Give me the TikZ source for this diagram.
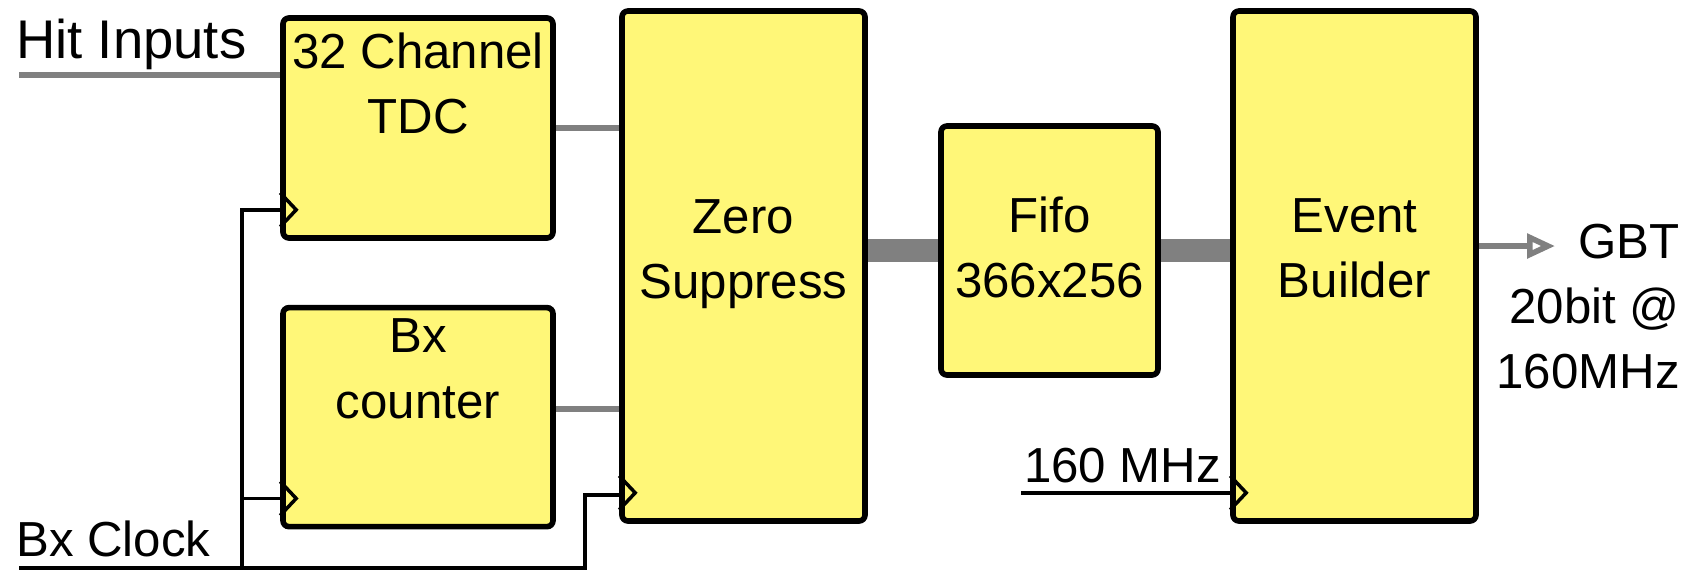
\documentclass[tikz,border=0pt]{standalone}
\usepackage{fontspec}
\setmainfont{Liberation Sans}
\usetikzlibrary{positioning, arrows.meta, calc}
\definecolor{blkyellow}{RGB}{255,247,120}
\definecolor{busgray}{RGB}{128,128,128}

\begin{document}
\begin{tikzpicture}[
    x=0.1mm, y=-0.1mm,
    blk/.style={draw, line width=1.6pt, rounded corners=0.6mm, fill=blkyellow, inner sep=0pt},
    txt/.style={align=center, inner sep=1pt, font=\fontsize{14}{18.5}\selectfont},
    sig/.style={busgray, line width=1.8pt},
    bus/.style={busgray, line width=6.8pt},
    clk/.style={black, line width=1pt},
    arrow/.style={-{Triangle[open, length=2.8mm, width=2.4mm]}, busgray, line width=1.6pt}
]
\useasboundingbox (0,0) rectangle (1690,573);

\node[blk, minimum width=27mm, minimum height=22mm] (tdc) at (418,128) {};
\node[blk, minimum width=27mm, minimum height=21.9mm, below=6.4mm of tdc] (bxc) {};
\node[blk, minimum width=24.3mm, minimum height=51mm] (zs) at (743.5,266) {};
\node[blk, minimum width=21.7mm, minimum height=24.9mm] (fifo) at (1049.5,250.5) {};
\node[blk, minimum width=24.3mm, minimum height=51mm] (evb) at (1354.5,266) {};

\node[txt] (tdc_t) at ($(tdc.north)+(0,68)$) {32 Channel\\TDC};
\node[txt] (bxc_t) at ($(bxc.north)+(0,64)$) {Bx\\counter};
\node[txt] (zs_t) at ($(zs.north)+(0,246)$) {Zero\\Suppress};
\node[txt] (fifo_t) at ($(fifo.north)+(0,124)$) {Fifo\\366x256};
\node[txt] (evb_t) at ($(evb.north)+(0,240)$) {Event\\Builder};

% clock pins
\foreach \b in {tdc,bxc,zs,evb}
  \draw[clk] ($(\b.south west)+(0,-14)$) -- ++(16,-17) -- ++(-16,-17);
\coordinate (tdcclk) at ($(tdc.south west)+(0,-31)$);
\coordinate (bxcclk) at ($(bxc.south west)+(0,-31)$);
\coordinate (zsclk) at ($(zs.south west)+(0,-29)$);
\coordinate (evbclk) at ($(evb.south west)+(0,-31)$);

% inputs
\coordinate (hit_in) at (19,75);
\node[txt, anchor=west, font=\fontsize{15.5}{18.5}\selectfont] (hit_l) at (12,44) {Hit Inputs};
\draw[sig] (hit_in) -- (hit_in -| tdc.west);

\coordinate (bx_in) at (19,568);
\coordinate (j1) at (242,568);
\coordinate (j2) at (585,568);
\node[txt, anchor=west] (bx_l) at (12,539) {Bx Clock};
\draw[clk] (bx_in) -- (j2) |- (zsclk);
\draw[clk] (j1) |- (tdcclk);
\draw[clk] (bxcclk -| j1) -- (bxcclk);

\coordinate (ev_in) at ($(evbclk)+(-209,0)$);
\node[txt, anchor=west] (mhz_l) at (1020,466) {160 MHz};
\draw[clk] (ev_in) -- (evbclk);

% data path
\draw[sig] (tdc.east) -- (tdc.east -| zs.west);
\draw[sig] ([yshift=0.8mm]bxc.east) -- ([yshift=0.8mm]bxc.east -| zs.west);
\draw[bus] (fifo.west -| zs.east) -- (fifo.west);
\draw[bus] (fifo.east) -- (fifo.east -| evb.west);

\coordinate (gbt_o) at (1555,246);
\draw[arrow] (gbt_o -| evb.east) -- (gbt_o);
\node[txt, align=right, anchor=east] (gbt_l) at (1684,307) {GBT\\20bit @\\160MHz};
\end{tikzpicture}
\end{document}
